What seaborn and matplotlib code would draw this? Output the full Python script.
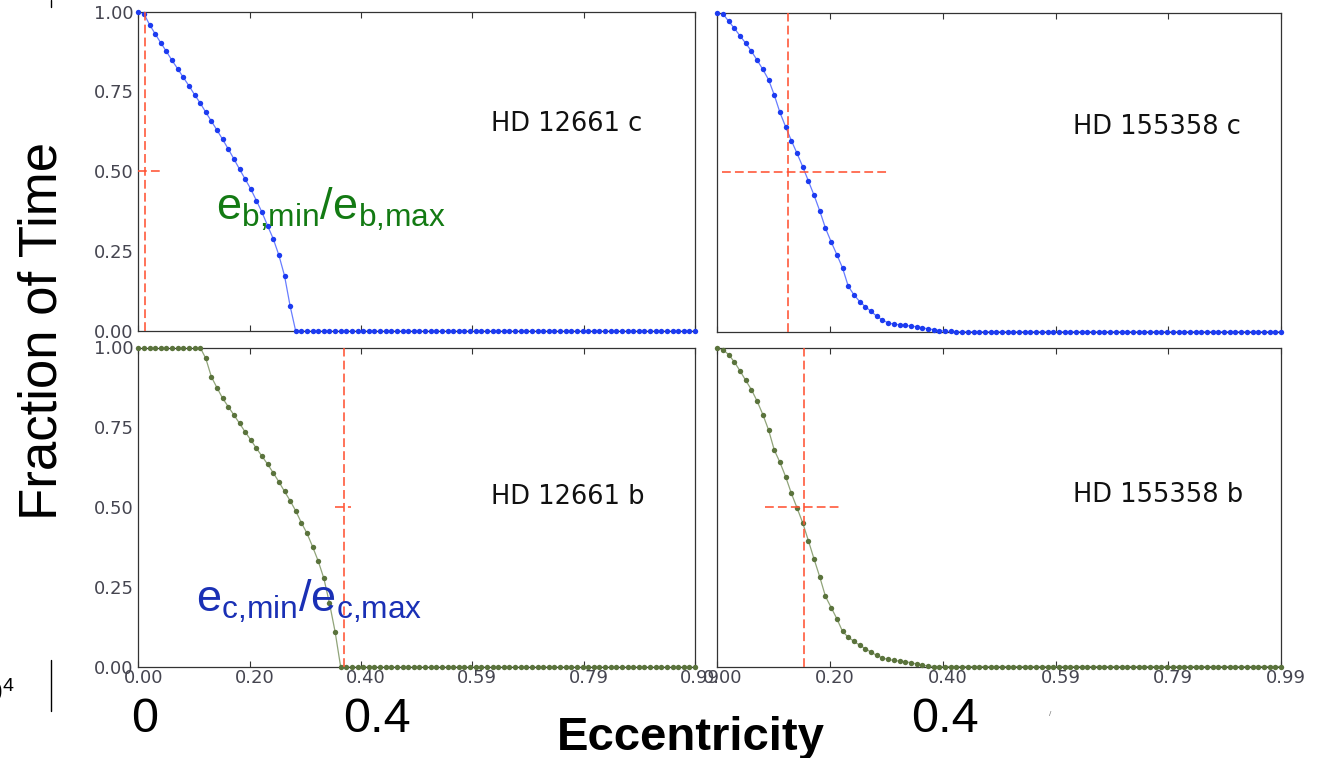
import numpy as np
import pandas as pd
import matplotlib
matplotlib.use("Agg")
import matplotlib.pyplot as plt
from matplotlib.lines import Line2D
from matplotlib.transforms import ScaledTranslation
import seaborn as sns

# ---------------- data ----------------
# eccentricity grid (0.00 ... 0.99, step 0.01)
ecc = np.round(np.arange(100) * 0.01, 2)

# Fraction of time, HD 12661 c (top-left)
frac_12661c = [1.000, 0.993, 0.959, 0.930, 0.902, 0.875, 0.847, 0.821, 0.794, 0.768,
               0.740, 0.714, 0.685, 0.657, 0.629, 0.600, 0.570, 0.539, 0.507, 0.476,
               0.445, 0.409, 0.372, 0.330, 0.289, 0.238, 0.174, 0.079, 0.000, 0.0,
               0.0, 0.0, 0.0, 0.0, 0.0, 0.0, 0.0, 0.0, 0.0, 0.0,
               0.0, 0.0, 0.0, 0.0, 0.0, 0.0, 0.0, 0.0, 0.0, 0.0,
               0.0, 0.0, 0.0, 0.0, 0.0, 0.0, 0.0, 0.0, 0.0, 0.0,
               0.0, 0.0, 0.0, 0.0, 0.0, 0.0, 0.0, 0.0, 0.0, 0.0,
               0.0, 0.0, 0.0, 0.0, 0.0, 0.0, 0.0, 0.0, 0.0, 0.0,
               0.0, 0.0, 0.0, 0.0, 0.0, 0.0, 0.0, 0.0, 0.0, 0.0,
               0.0, 0.0, 0.0, 0.0, 0.0, 0.0, 0.0, 0.0, 0.0, 0.0]

# Fraction of time, HD 155358 c (top-right)
frac_155358c = [1.000, 0.997, 0.974, 0.952, 0.928, 0.905, 0.880, 0.852, 0.823, 0.791,
                0.743, 0.688, 0.643, 0.600, 0.560, 0.518, 0.473, 0.428, 0.379, 0.325,
                0.282, 0.242, 0.200, 0.143, 0.116, 0.095, 0.079, 0.064, 0.049, 0.037,
                0.028, 0.024, 0.022, 0.020, 0.018, 0.016, 0.013, 0.009, 0.007, 0.004,
                0.002, 0.001, 0.0, 0.0, 0.0, 0.0, 0.0, 0.0, 0.0, 0.0,
                0.0, 0.0, 0.0, 0.0, 0.0, 0.0, 0.0, 0.0, 0.0, 0.0,
                0.0, 0.0, 0.0, 0.0, 0.0, 0.0, 0.0, 0.0, 0.0, 0.0,
                0.0, 0.0, 0.0, 0.0, 0.0, 0.0, 0.0, 0.0, 0.0, 0.0,
                0.0, 0.0, 0.0, 0.0, 0.0, 0.0, 0.0, 0.0, 0.0, 0.0,
                0.0, 0.0, 0.0, 0.0, 0.0, 0.0, 0.0, 0.0, 0.0, 0.0]

# Fraction of time, HD 12661 b (bottom-left)
frac_12661b = [1.000, 1.000, 1.000, 1.000, 1.000, 1.000, 1.000, 1.000, 1.000, 1.000,
               1.000, 1.000, 0.966, 0.908, 0.874, 0.841, 0.815, 0.789, 0.763, 0.736,
               0.711, 0.685, 0.660, 0.635, 0.608, 0.580, 0.550, 0.521, 0.489, 0.452,
               0.419, 0.377, 0.332, 0.278, 0.200, 0.111, 0.000, 0.0, 0.0, 0.0,
               0.0, 0.0, 0.0, 0.0, 0.0, 0.0, 0.0, 0.0, 0.0, 0.0,
               0.0, 0.0, 0.0, 0.0, 0.0, 0.0, 0.0, 0.0, 0.0, 0.0,
               0.0, 0.0, 0.0, 0.0, 0.0, 0.0, 0.0, 0.0, 0.0, 0.0,
               0.0, 0.0, 0.0, 0.0, 0.0, 0.0, 0.0, 0.0, 0.0, 0.0,
               0.0, 0.0, 0.0, 0.0, 0.0, 0.0, 0.0, 0.0, 0.0, 0.0,
               0.0, 0.0, 0.0, 0.0, 0.0, 0.0, 0.0, 0.0, 0.0, 0.0]

# Fraction of time, HD 155358 b (bottom-right)
frac_155358b = [1.000, 0.995, 0.979, 0.956, 0.928, 0.898, 0.869, 0.833, 0.791, 0.743,
                0.680, 0.641, 0.596, 0.544, 0.498, 0.451, 0.395, 0.337, 0.281, 0.220,
                0.185, 0.150, 0.110, 0.092, 0.079, 0.067, 0.056, 0.045, 0.035, 0.027,
                0.022, 0.019, 0.017, 0.015, 0.012, 0.008, 0.004, 0.002, 0.0, 0.0,
                0.0, 0.0, 0.0, 0.0, 0.0, 0.0, 0.0, 0.0, 0.0, 0.0,
                0.0, 0.0, 0.0, 0.0, 0.0, 0.0, 0.0, 0.0, 0.0, 0.0,
                0.0, 0.0, 0.0, 0.0, 0.0, 0.0, 0.0, 0.0, 0.0, 0.0,
                0.0, 0.0, 0.0, 0.0, 0.0, 0.0, 0.0, 0.0, 0.0, 0.0,
                0.0, 0.0, 0.0, 0.0, 0.0, 0.0, 0.0, 0.0, 0.0, 0.0,
                0.0, 0.0, 0.0, 0.0, 0.0, 0.0, 0.0, 0.0, 0.0, 0.0]

planet_names = ["HD 12661 c", "HD 155358 c", "HD 12661 b", "HD 155358 b"]
# observed eccentricity (red vertical line) and range at fraction 0.5 (red horizontal)
obs_ecc = [0.012, 0.125, 0.366, 0.153]
obs_lo = [0.0, 0.008, 0.3495, 0.084]
obs_hi = [0.041, 0.303, 0.379, 0.2185]
obs_level = [0.5, 0.5, 0.5, 0.5]

xtick_vals = [0.0, 0.198, 0.396, 0.594, 0.792, 0.99]
xtick_labels = ["0.00", "0.20", "0.40", "0.59", "0.79", "0.99"]
ytick_vals = [0.0, 0.25, 0.5, 0.75, 1.0]
ytick_labels = ["0.00", "0.25", "0.50", "0.75", "1.00"]

# ---------------- style ----------------
sns.set_style("white")
plt.rcParams["font.family"] = ["Liberation Sans", "DejaVu Sans"]
plt.rcParams["mathtext.fontset"] = "custom"
plt.rcParams["mathtext.rm"] = "Liberation Sans"
plt.rcParams["mathtext.it"] = "Liberation Sans:italic"
plt.rcParams["mathtext.bf"] = "Liberation Sans:bold"

W, H = 1323, 758
fig = plt.figure(figsize=(W / 100, H / 100), dpi=100)
fig.patch.set_facecolor("white")

def add_ax(l, t, r, b):
    return fig.add_axes([l / W, 1 - b / H, (r - l) / W, (b - t) / H])

boxes = [(138.3, 11.5, 695.0, 331.3),
         (717.3, 13.0, 1281.0, 331.8),
         (138.3, 347.5, 695.0, 667.3),
         (717.3, 348.0, 1281.0, 666.5)]
series = [frac_12661c, frac_155358c, frac_12661b, frac_155358b]
line_cols = ["#4d66ff", "#4d66ff", "#7d9462", "#7d9462"]
mark_cols = ["#1c3bf0", "#1c3bf0", "#5a733c", "#5a733c"]
label_pos = [(490.7, 124), (1073, 127), (490.7, 497), (1073, 495)]
red = "#ff5333"

for i in range(4):
    ax = add_ax(*boxes[i])
    df = pd.DataFrame({"e": ecc, "f": series[i]})
    sns.lineplot(data=df, x="e", y="f", ax=ax, color=line_cols[i], lw=0.9,
                 alpha=0.85, zorder=2)
    sns.scatterplot(data=df, x="e", y="f", ax=ax, color=mark_cols[i], s=15,
                    linewidth=0, zorder=3, clip_on=False)
    ax.axvline(obs_ecc[i], color=red, lw=1.15, ls=(0, (5.5, 2.6)), zorder=4)
    ax.hlines(obs_level[i], obs_lo[i], obs_hi[i], color=red, lw=1.15,
              linestyles=[(0, (5.5, 2.6))], zorder=4)
    ax.set_xlim(0, 0.99)
    ax.set_ylim(0, 1)
    ax.set_xlabel("")
    ax.set_ylabel("")
    row, col = divmod(i, 2)
    ax.set_xticks(xtick_vals)
    ax.set_xticklabels(xtick_labels if row == 1 else [])
    ax.set_yticks(ytick_vals)
    ax.set_yticklabels(ytick_labels if col == 0 else [])
    ax.tick_params(axis="x", which="both", direction="in", top=True, bottom=True,
                   length=4.5, width=0.8, color="#333333", labelsize=13,
                   labelcolor="#454550", pad=1.5)
    ax.tick_params(axis="y", length=0, pad=3.5, labelsize=13, labelcolor="#454550")
    for lbl in ax.get_xticklabels() + ax.get_yticklabels():
        lbl.set_fontfamily("DejaVu Sans")
    for lbl in ax.get_xticklabels():
        lbl.set_transform(lbl.get_transform() + ScaledTranslation(0.05, 0, fig.dpi_scale_trans))
    for sp in ax.spines.values():
        sp.set_color("#333333")
        sp.set_linewidth(0.9)
    lx, ly = label_pos[i]
    fig.text(lx / W, 1 - ly / H, planet_names[i], fontsize=18.5, family="DejaVu Sans",
             color="#111111", ha="left", va="center")

# ---------------- slide annotations ----------------
fig.text(43 / W, 1 - 331 / H, "Fraction of Time", rotation=90, fontsize=38,
         ha="center", va="center", color="black")
fig.text(691 / W, 1 - 750 / H, "Eccentricity", fontsize=34, fontweight="bold",
         ha="center", va="baseline", color="black")
big_vals = ["0", "0.4", "0.4"]
big_x = [145, 377, 945]
for t, x in zip(big_vals, big_x):
    fig.text(x / W, 1 - 732 / H, t, fontsize=35, ha="center", va="baseline", color="black")

fig.text(216 / W, 1 - 220 / H, r"$\mathregular{e_{b{,}min}/e_{b{,}max}}$",
         fontsize=32.5, color="#137a13", ha="left", va="baseline")
fig.text(196 / W, 1 - 612 / H, r"$\mathregular{e_{c{,}min}/e_{c{,}max}}$",
         fontsize=32.5, color="#1a30b5", ha="left", va="baseline")

fig.text(15 / W, 1 - 702 / H, r"$\mathregular{10^4}$", fontsize=20,
         ha="right", va="baseline", color="black")
fig.add_artist(Line2D([50.7 / W, 50.7 / W], [1 - 660 / H, 1 - 711 / H], color="black", lw=1.0))
fig.add_artist(Line2D([50.7 / W, 50.7 / W], [1.0, 1 - 7 / H], color="black", lw=1.0))
fig.text(1050 / W, 1 - 714 / H, "/", fontsize=6, color="#777777", ha="center", va="center")

fig.savefig("out.png", dpi=100)
